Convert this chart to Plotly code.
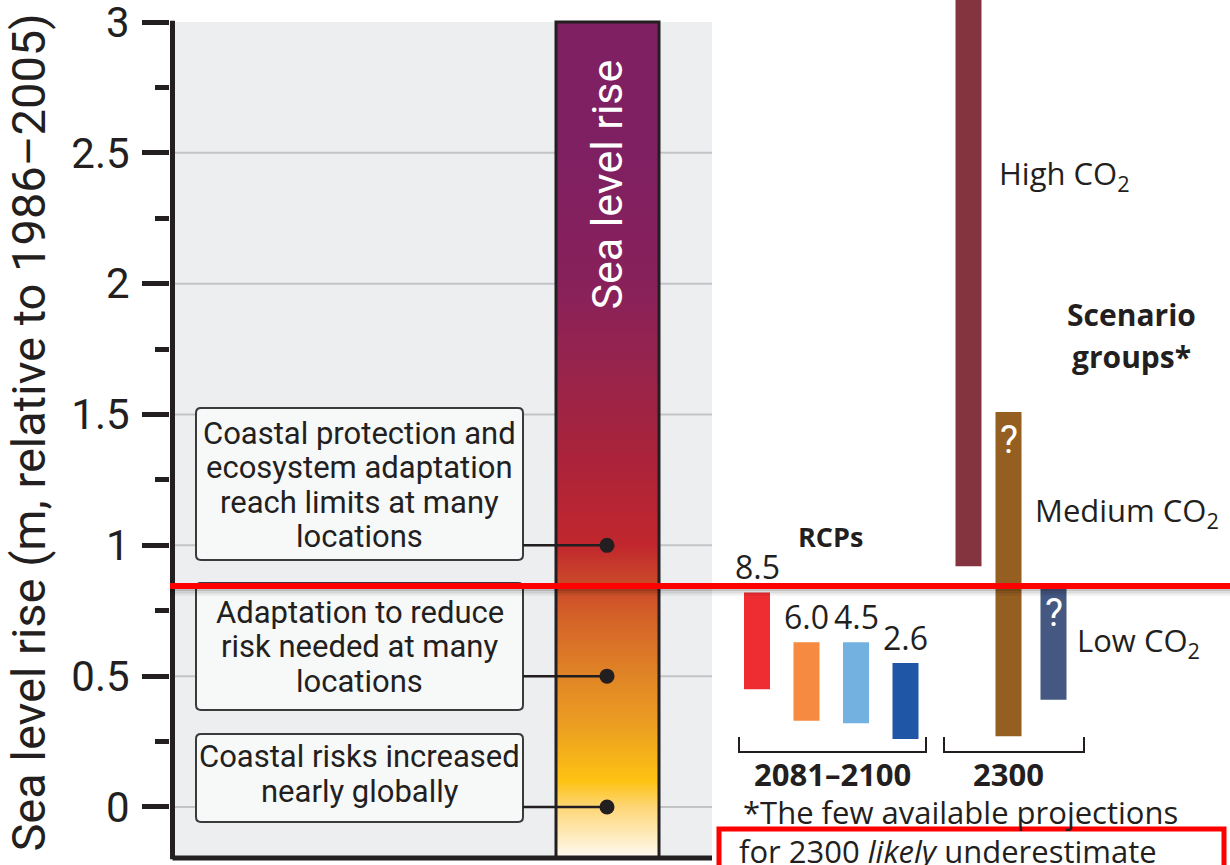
import numpy as np
import plotly.graph_objects as go

# ---------------- data ----------------
y_ticks = [0, 0.5, 1, 1.5, 2, 2.5, 3]
y_tick_labels = ["0", "0.5", "1", "1.5", "2", "2.5", "3"]
y_minor_ticks = [0.25, 0.75, 1.25, 1.75, 2.25, 2.75]

risk_levels = [1.0, 0.5, 0.0]
risk_lines = [
    ["Coastal protection and", "ecosystem adaptation", "reach limits at many", "locations"],
    ["Adaptation to reduce", "risk needed at many", "locations"],
    ["Coastal risks increased", "nearly globally"],
]

gradient_levels = [-0.195, -0.1, 0.0, 0.1, 0.3, 0.5, 0.7, 0.85, 1.0, 1.3, 1.6, 2.0, 2.5, 3.0]
gradient_colors = ["#FFFBF3", "#FEE9B6", "#FDD676", "#FDC312", "#EDA021", "#E08526",
                   "#D66628", "#CB4A2A", "#C1272D", "#AD2339", "#9B2448", "#88215B",
                   "#7F2062", "#7E2062"]

rcp_names = ["8.5", "6.0", "4.5", "2.6"]
rcp_low = [0.45, 0.33, 0.32, 0.26]
rcp_high = [0.82, 0.63, 0.63, 0.55]
rcp_colors = ["#EE2D32", "#F58A40", "#72B1E0", "#1F56A6"]

group_names = ["High CO<sub>2</sub>", "Medium CO<sub>2</sub>", "Low CO<sub>2</sub>"]
group_low = [0.92, 0.27, 0.41]
group_high = [3.59, 1.51, 0.85]
group_colors = ["#84343F", "#955F22", "#445881"]
group_uncertain = [False, True, True]

# ---------------- layout constants ----------------
TEXT = "#231F20"
COND = "Roboto, Liberation Sans, sans-serif"
REG = "Open Sans, Liberation Sans, sans-serif"

W, H = 1230, 865
ML = 170
XR = [0, 10.60]
YR = [-0.2217, 3.0841]
AX_BOTTOM = -0.195
AX_TOP = 3.0
PANEL_X0, PANEL_X1 = 0.05, 5.42
AXIS_X = 0.025
BAR_X0, BAR_X1 = 3.86, 4.89
DOT_X = 4.37
BOX_X0, BOX_X1 = 0.26, 3.53
box_top = [1.525, 0.856, 0.279]
box_bottom = [0.944, 0.371, -0.057]
box_text_center = [1.2306, 0.6115, 0.1261]
LINE_SP = 0.1318
rcp_x = [5.87 + 0.495 * i for i in range(4)]
group_x = [7.985, 8.385, 8.835]
BAR_W = 0.26
group_label_pos = [(8.27, 2.415), (8.63, 1.127), (9.05, 0.631)]

fig = go.Figure()

# gradient "Sea level rise" column
fig.add_trace(go.Scatter(
    x=[BAR_X0, BAR_X1, BAR_X1, BAR_X0, BAR_X0],
    y=[AX_BOTTOM, AX_BOTTOM, AX_TOP, AX_TOP, AX_BOTTOM],
    mode="lines", line=dict(width=0), fill="toself",
    fillgradient=dict(
        type="vertical", start=AX_BOTTOM, stop=AX_TOP,
        colorscale=[[(lv - AX_BOTTOM) / (AX_TOP - AX_BOTTOM), c]
                    for lv, c in zip(gradient_levels, gradient_colors)]),
    hoverinfo="skip", showlegend=False))

# connectors and dots
cx, cy = [], []
for lv in risk_levels:
    cx += [BOX_X1, DOT_X, None]
    cy += [lv, lv, None]
fig.add_trace(go.Scatter(x=cx, y=cy, mode="lines", line=dict(color=TEXT, width=2.5),
                         hoverinfo="skip", showlegend=False))
fig.add_trace(go.Scatter(x=[DOT_X] * len(risk_levels), y=risk_levels, mode="markers",
                         marker=dict(color=TEXT, size=15), hoverinfo="skip", showlegend=False))

# RCP bars
fig.add_trace(go.Bar(x=rcp_x, y=[h - l for l, h in zip(rcp_low, rcp_high)], base=rcp_low,
                     width=BAR_W, marker=dict(color=rcp_colors, line=dict(width=0)),
                     hoverinfo="skip", showlegend=False))
# scenario group bars
fig.add_trace(go.Bar(x=group_x, y=[h - l for l, h in zip(group_low, group_high)], base=group_low,
                     width=BAR_W, marker=dict(color=group_colors, line=dict(width=0)),
                     hoverinfo="skip", showlegend=False))

# brackets
BR_TOP, BR_BOT = 0.2675, 0.21
for xa, xb in [(5.69, 7.56), (7.74, 9.14)]:
    fig.add_trace(go.Scatter(x=[xa, xa, xb, xb], y=[BR_TOP, BR_BOT, BR_BOT, BR_TOP],
                             mode="lines", line=dict(color=TEXT, width=2),
                             hoverinfo="skip", showlegend=False))

shapes = []
# grey panel
shapes.append(dict(type="rect", xref="x", yref="y", x0=PANEL_X0, x1=PANEL_X1,
                   y0=AX_BOTTOM, y1=AX_TOP, fillcolor="#EDEEF0", line=dict(width=0), layer="below"))
# gridlines
for t in y_ticks[:-1]:
    shapes.append(dict(type="line", xref="x", yref="y", x0=PANEL_X0, x1=PANEL_X1, y0=t, y1=t,
                       line=dict(color="#C3C4C6", width=2), layer="below"))


def rrect(x0, x1, y0, y1, rx=0.05, ry=0.019):
    return (f"M{x0+rx},{y0} L{x1-rx},{y0} Q{x1},{y0} {x1},{y0+ry} L{x1},{y1-ry} "
            f"Q{x1},{y1} {x1-rx},{y1} L{x0+rx},{y1} Q{x0},{y1} {x0},{y1-ry} "
            f"L{x0},{y0+ry} Q{x0},{y0} {x0+rx},{y0} Z")


for bt, bb in zip(box_top, box_bottom):
    shapes.append(dict(type="path", xref="x", yref="y", path=rrect(BOX_X0, BOX_X1, bb, bt),
                       fillcolor="#F7F8F8", line=dict(color="#3A3A3C", width=2), layer="below"))

# column outline
shapes.append(dict(type="rect", xref="x", yref="y", x0=BAR_X0, x1=BAR_X1, y0=AX_BOTTOM, y1=AX_TOP,
                   line=dict(color=TEXT, width=3), fillcolor="rgba(0,0,0,0)", layer="above"))
# axis lines
shapes.append(dict(type="line", xref="x", yref="y", x0=AXIS_X, x1=AXIS_X, y0=AX_BOTTOM - 0.005,
                   y1=AX_TOP + 0.005, line=dict(color=TEXT, width=5), layer="above"))
shapes.append(dict(type="line", xref="x", yref="y", x0=AXIS_X, x1=PANEL_X1, y0=AX_BOTTOM, y1=AX_BOTTOM,
                   line=dict(color=TEXT, width=5), layer="above"))

# red markup line with shadow
RED_Y = 0.8446
for dy, a in [(0.012, 0.22), (0.022, 0.13), (0.032, 0.06)]:
    shapes.append(dict(type="line", xref="paper", yref="y", x0=0.0, x1=1.0, y0=RED_Y - dy, y1=RED_Y - dy,
                       line=dict(color=f"rgba(0,0,0,{a})", width=3), layer="above"))
shapes.append(dict(type="line", xref="paper", yref="y", x0=0.0, x1=1.0, y0=RED_Y, y1=RED_Y,
                   line=dict(color="#FF0000", width=6), layer="above"))
# red markup box
shapes.append(dict(type="rect", xref="x", yref="y", x0=5.49, x1=10.54, y0=-0.40, y1=-0.0841,
                   line=dict(color="#FF0000", width=5), fillcolor="rgba(0,0,0,0)", layer="above"))

ann = []
# risk box texts
for lines, yc in zip(risk_lines, box_text_center):
    n = len(lines)
    for i, s in enumerate(lines):
        ann.append(dict(x=(BOX_X0 + BOX_X1) / 2, y=yc + (n - 1) / 2 * LINE_SP - i * LINE_SP,
                        text=s, showarrow=False, xanchor="center", yanchor="middle",
                        font=dict(family=COND, size=31, color=TEXT)))
# column label
ann.append(dict(x=(BAR_X0 + BAR_X1) / 2, y=2.377, text="Sea level rise", textangle=-90,
                showarrow=False, font=dict(family=COND, size=43, color="white")))
# RCP labels
for x, h, name in zip(rcp_x, rcp_high, rcp_names):
    ann.append(dict(x=x, y=h, text=name, showarrow=False, yanchor="bottom", yshift=2,
                    font=dict(family=REG, size=32, color=TEXT)))
# question marks
for x, h, u in zip(group_x, group_high, group_uncertain):
    if u:
        ann.append(dict(x=x, y=h, text="?", showarrow=False, yanchor="top", yshift=-4,
                        font=dict(family=COND, size=38, color="white")))
# group labels
for (gx, gy), name in zip(group_label_pos, group_names):
    ann.append(dict(x=gx, y=gy, text=name, showarrow=False, xanchor="left", yanchor="middle",
                    font=dict(family=REG, size=31, color=TEXT)))
ann.append(dict(x=6.60, y=1.032, text="<b>RCPs</b>", showarrow=False,
                font=dict(family=REG, size=27, color=TEXT)))
ann.append(dict(x=9.61, y=1.884, text="<b>Scenario</b>", showarrow=False,
                font=dict(family=REG, size=30, color=TEXT)))
ann.append(dict(x=9.61, y=1.72, text="<b>groups*</b>", showarrow=False,
                font=dict(family=REG, size=30, color=TEXT)))
ann.append(dict(x=6.62, y=0.126, text="<b>2081–2100</b>", showarrow=False,
                font=dict(family=REG, size=31, color=TEXT)))
ann.append(dict(x=8.38, y=0.126, text="<b>2300</b>", showarrow=False,
                font=dict(family=REG, size=31, color=TEXT)))
# footnote
ann.append(dict(x=5.71, y=-0.019, text="*The few available projections", showarrow=False,
                xanchor="left", font=dict(family=REG, size=31, color=TEXT)))
ann.append(dict(x=5.67, y=-0.168, text="for 2300 <i>likely</i> underestimate", showarrow=False,
                xanchor="left", font=dict(family=REG, size=31, color=TEXT)))

fig.update_layout(
    width=W, height=H, margin=dict(l=ML, r=0, t=0, b=0),
    paper_bgcolor="white", plot_bgcolor="white",
    barmode="overlay", showlegend=False,
    shapes=shapes, annotations=ann,
    xaxis=dict(range=XR, visible=False, fixedrange=True),
    yaxis=dict(range=YR, showgrid=False, zeroline=False, showline=False,
               tickmode="array", tickvals=y_ticks, ticktext=y_tick_labels,
               ticks="outside", ticklen=27, tickwidth=5, tickcolor=TEXT,
               ticklabelstandoff=4, ticklabeloverflow="allow",
               minor=dict(tickmode="array", tickvals=y_minor_ticks, ticks="outside",
                          ticklen=14, tickwidth=5, tickcolor=TEXT),
               tickfont=dict(family=COND, size=42, color=TEXT),
               title=dict(text="Sea level rise (m, relative to 1986–2005)", standoff=10,
                          font=dict(family=COND, size=47, color=TEXT)),
               automargin=False, fixedrange=True),
)

fig.write_html("out.html", config={"displayModeBar": False},
               post_script="document.body.style.margin='0px';")
